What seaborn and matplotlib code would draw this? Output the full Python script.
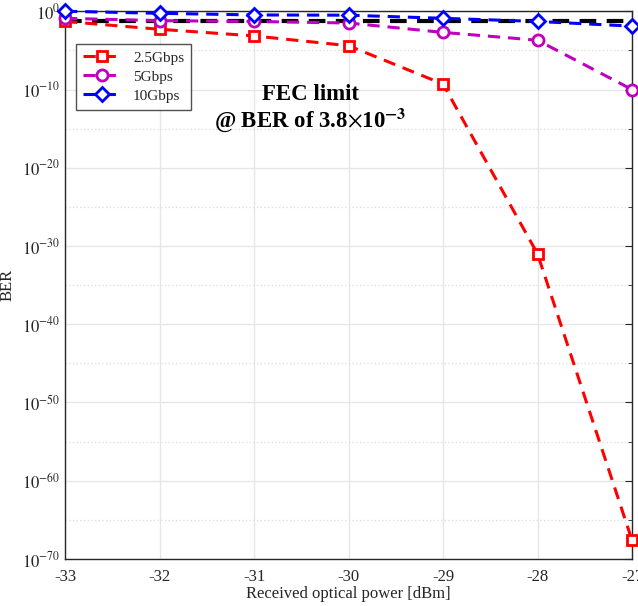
import numpy as np
import pandas as pd
import matplotlib
matplotlib.use('Agg')
import matplotlib.pyplot as plt
import seaborn as sns

power = [-33, -32, -31, -30, -29, -28, -27]
# log10(BER)
ber_25 = [-1.3, -2.3, -3.15, -4.4, -9.3, -31.0, -67.6]
ber_5 = [-0.9, -1.2, -1.3, -1.5, -2.7, -3.7, -10.0]
ber_10 = [0.0, -0.26, -0.47, -0.5, -0.9, -1.3, -1.9]
labels = ['2.5Gbps', '5Gbps', '10Gbps']
fec_level = -1.2

sns.set_style('white')
plt.rcParams['font.family'] = ['Liberation Serif', 'DejaVu Serif']
plt.rcParams['mathtext.fontset'] = 'stix'

rows = []
for lab, vals in zip(labels, [ber_25, ber_5, ber_10]):
    for p, v in zip(power, vals):
        rows.append({'power': p, 'BER': 10.0 ** v, 'rate': lab})
df = pd.DataFrame(rows)

fig = plt.figure(figsize=(6.38, 6.06), dpi=100)
ax = fig.add_axes([0.102, 0.0776, 0.8886, 0.9038])

ax.set_yscale('log')

colors = {'2.5Gbps': '#ff0000', '5Gbps': '#bf00bf', '10Gbps': '#0000ff'}
markers = {'2.5Gbps': 's', '5Gbps': 'o', '10Gbps': 'D'}
msize = {'2.5Gbps': 7, '5Gbps': 8, '10Gbps': 7}

# FEC limit line
ax.plot([power[0], power[-1]], [10.0 ** fec_level] * 2, color='black',
        linestyle=(0, (4, 2.5)), linewidth=3, zorder=2)

for lab in labels:
    sub = df[df['rate'] == lab]
    sns.lineplot(data=sub, x='power', y='BER', ax=ax, color=colors[lab],
                 marker=markers[lab], markersize=msize[lab], markerfacecolor='white',
                 markeredgecolor=colors[lab], markeredgewidth=2, linewidth=2.2,
                 linestyle=(0, (4, 2.6)), label=lab, zorder=3, clip_on=False)

ax.set_xlim(-33, -27)
ax.set_ylim(1e-70, 1)
ax.set_xticks(power)
ax.set_xticklabels([str(p) for p in power])
yt = [10.0 ** (-k) for k in range(0, 80, 10)]
ax.set_yticks(yt)
ax.set_yticklabels([r'$10^{%d}$' % (-k) if k else r'$10^{0}$' for k in range(0, 80, 10)])
ax.set_yticks([10.0 ** (-k) for k in range(5, 70, 10)], minor=True)
ax.yaxis.set_minor_formatter(matplotlib.ticker.NullFormatter())

ax.grid(True, which='major', color='#e6e6e6', linewidth=1)
ax.grid(True, which='minor', axis='y', color='#e0e0e0', linestyle=':', linewidth=1)
ax.tick_params(direction='in', which='both', top=True, right=True,
               labelsize=12, colors='#262626', length=5)
ax.tick_params(axis='x', pad=7)
ax.tick_params(which='minor', length=3)
for s in ax.spines.values():
    s.set_color('#262626')
    s.set_linewidth(1)

ax.set_xlabel('Received optical power [dBm]', fontsize=12, color='#262626')
ax.xaxis.set_label_coords(0.5, -0.05)
ax.set_ylabel('BER', fontsize=12, color='#262626')
ax.yaxis.set_label_coords(-0.088, 0.5)

leg = ax.legend(loc='upper left', bbox_to_anchor=(0.019, 0.94), fontsize=11,
                frameon=True, fancybox=False, edgecolor='#262626', borderaxespad=0,
                handlelength=2.5, borderpad=0.45, labelspacing=0.35, handletextpad=0.8)
leg.get_frame().set_linewidth(1)

ax.text(-30.4, 10.0 ** -12.5, 'FEC limit\n@ BER of 3.8$\\times$10$^{\\mathbf{-3}}$',
        fontsize=16.5, fontweight='bold', ha='center', va='center',
        linespacing=1.05, color='black')

fig.savefig('out.png', dpi=100)
